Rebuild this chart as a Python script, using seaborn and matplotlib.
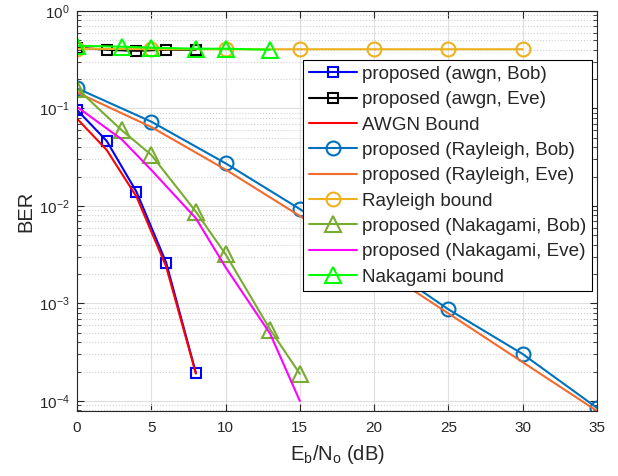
import matplotlib
matplotlib.use('Agg')
import matplotlib.pyplot as plt
import matplotlib.ticker as mticker
import seaborn as sns

# Eb/No grids (dB)
snr_awgn = [0, 2, 4, 6, 8]
snr_rayleigh = [0, 5, 10, 15, 20, 25, 30, 35]
snr_rayleigh_bound = [0, 5, 10, 15, 20, 25, 30]
snr_nakagami = [0, 3, 5, 8, 10, 13, 15]
snr_nakagami_bound = [0, 3, 5, 8, 10, 13]

# BER values
ber_awgn_bob = [0.0966, 0.0464, 0.0140, 0.00263, 0.000195]
ber_awgn_eve = [0.42, 0.40, 0.39, 0.40, 0.40]
ber_awgn_bound = [0.0786, 0.0375, 0.0125, 0.00239, 0.000191]
ber_rayleigh_bob = [0.161, 0.0732, 0.0274, 0.0093, 0.0029, 0.00087, 0.000303, 0.000085]
ber_rayleigh_eve = [0.146, 0.0645, 0.0236, 0.0079, 0.0025, 0.00079, 0.00025, 0.000079]
ber_rayleigh_bound = [0.41, 0.405, 0.405, 0.405, 0.405, 0.405, 0.405]
ber_nakagami_bob = [0.16, 0.060, 0.0334, 0.00874, 0.0032, 0.00054, 0.00019]
ber_nakagami_eve = [0.104, 0.0483, 0.0234, 0.00748, 0.00235, 0.00049, 0.000100]
ber_nakagami_bound = [0.44, 0.43, 0.42, 0.41, 0.41, 0.40]

labels = [
    'proposed (awgn, Bob)',
    'proposed (awgn, Eve)',
    'AWGN Bound',
    'proposed (Rayleigh, Bob)',
    'proposed (Rayleigh, Eve)',
    'Rayleigh bound',
    'proposed (Nakagami, Bob)',
    'proposed (Nakagami, Eve)',
    'Nakagami bound',
]


def main():
    '''draw the BER curves'''
    sns.set_style('ticks')
    plt.rcParams['font.family'] = ['Liberation Sans', 'DejaVu Sans']
    plt.rcParams['mathtext.fontset'] = 'custom'
    plt.rcParams['mathtext.rm'] = 'Liberation Sans'
    plt.rcParams['mathtext.it'] = 'Liberation Sans:italic'
    plt.rcParams['mathtext.default'] = 'regular'

    fig = plt.figure(figsize=(6.18, 4.76), dpi=100)
    axes = fig.add_axes([0.1246, 0.1366, 0.8414, 0.8404])

    series = [
        (snr_awgn, ber_awgn_bob, '#0000FF', 's', 6.5),
        (snr_awgn, ber_awgn_eve, '#000000', 's', 6.5),
        (snr_awgn, ber_awgn_bound, '#FF0000', None, 0),
        (snr_rayleigh, ber_rayleigh_bob, '#0072BD', 'o', 10),
        (snr_rayleigh, ber_rayleigh_eve, '#F36B2D', None, 0),
        (snr_rayleigh_bound, ber_rayleigh_bound, '#EDB120', 'o', 10),
        (snr_nakagami, ber_nakagami_bob, '#77AC30', '^', 11),
        (snr_nakagami, ber_nakagami_eve, '#FF00FF', None, 0),
        (snr_nakagami_bound, ber_nakagami_bound, '#00FF00', '^', 11),
    ]
    for (snr, ber, color, marker, msize), label in zip(series, labels):
        sns.lineplot(x=snr, y=ber, ax=axes, color=color, marker=marker,
                     markersize=msize, markerfacecolor='none',
                     markeredgecolor=color, markeredgewidth=1.5,
                     linewidth=1.5, label=label, sort=False)

    axes.set_yscale('log')
    axes.set_xlim(0, 35)
    axes.set_ylim(7.9e-5, 1)
    axes.set_xticks([0, 5, 10, 15, 20, 25, 30, 35])
    axes.yaxis.set_major_locator(mticker.LogLocator(base=10, numticks=10))
    axes.yaxis.set_minor_locator(mticker.LogLocator(base=10, subs=range(2, 10), numticks=20))
    axes.yaxis.set_minor_formatter(mticker.NullFormatter())

    axes.grid(True, which='major', color='#DFDFDF', linewidth=0.8)
    axes.grid(True, which='minor', axis='y', color='#D0D0D0', linestyle=':', linewidth=0.8)
    axes.set_axisbelow(True)

    for spine in axes.spines.values():
        spine.set_visible(True)
        spine.set_color('#262626')
        spine.set_linewidth(0.8)
    axes.tick_params(which='both', direction='in', top=True, right=True,
                     colors='#262626', labelsize=11)
    axes.tick_params(axis='x', which='major', length=5, pad=7)
    axes.tick_params(axis='y', which='major', length=5, pad=5)
    axes.tick_params(which='minor', length=3)

    axes.set_xlabel(r'E$_{b}$/N$_{o}$ (dB)', fontsize=14.5, color='#262626', labelpad=6)
    axes.set_ylabel('BER', fontsize=14.5, color='#262626', labelpad=2.5)

    legend = axes.legend(loc='upper right', bbox_to_anchor=(0.99, 0.8775),
                         borderaxespad=0, fontsize=13.6, frameon=True,
                         fancybox=False, edgecolor='#000000', framealpha=1,
                         handlelength=2.55, handletextpad=0.25,
                         labelspacing=0.43, borderpad=0.3)
    legend.get_frame().set_linewidth(0.8)

    fig.savefig('out.png', dpi=100)


if __name__ == '__main__':
    main()
